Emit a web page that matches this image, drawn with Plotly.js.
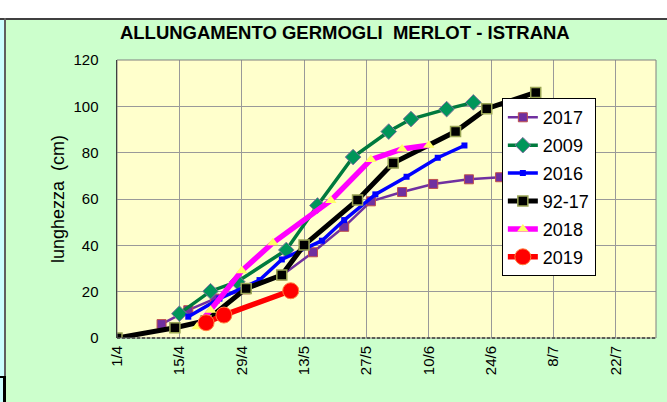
<!DOCTYPE html>
<html>
<head>
<meta charset="utf-8">
<script src="https://cdn.plot.ly/plotly-3.0.1.min.js"></script>
<style>
  html, body { margin: 0; padding: 0; }
  #wrap { position: relative; width: 667px; height: 402px; overflow: hidden; background: #CCFFCC; }
  .bg { position: absolute; }
  #chart { position: absolute; left: 0; top: 0; width: 667px; height: 402px; }
</style>
</head>
<body>
<div id="wrap">
  <div class="bg" style="left:0;top:0;width:667px;height:18px;background:#FFFFFF;"></div>
  <div class="bg" style="left:0;top:18px;width:667px;height:2px;background:#404040;"></div>
  <div class="bg" style="left:0;top:20px;width:4px;height:382px;background:#CCFFFF;"></div>
  <div class="bg" style="left:4px;top:18px;width:2px;height:360px;background:#606060;"></div>
  <div class="bg" style="left:0;top:376px;width:6px;height:2px;background:#000000;"></div>
  <div class="bg" style="left:3px;top:376px;width:3px;height:26px;background:#000000;"></div>
  <div id="chart"></div>
</div>
<script>
// ---- data ----
const dates2017 = ['2019-04-11','2019-04-17','2019-04-23','2019-04-30','2019-05-08','2019-05-15','2019-05-22','2019-05-28','2019-06-04','2019-06-11','2019-06-19','2019-06-26'];
const vals2017  = [6, 12, 17, 21, 27, 37, 48, 59, 63, 66.5, 68.5, 69.4];

const dates2009 = ['2019-04-15','2019-04-22','2019-04-28','2019-05-09','2019-05-16','2019-05-24','2019-06-01','2019-06-06','2019-06-14','2019-06-20'];
const vals2009  = [10.5, 20.2, 24.3, 38, 57.2, 78.1, 89.1, 94.5, 98.8, 101.7];

const dates2016 = ['2019-04-17','2019-04-24','2019-05-03','2019-05-08','2019-05-17','2019-05-22','2019-05-29','2019-06-05','2019-06-12','2019-06-18'];
const vals2016  = [9.2, 17, 25, 33.9, 42, 50.9, 62, 69.6, 77.8, 83.1];

const datesAvg  = ['2019-04-01','2019-04-14','2019-04-21','2019-04-30','2019-05-08','2019-05-13','2019-05-25','2019-06-02','2019-06-16','2019-06-23','2019-07-04'];
const valsAvg   = [0, 4.4, 7.5, 21.4, 27.2, 40.1, 59.6, 75.5, 89.1, 99, 106];

const dates2018 = ['2019-04-19','2019-04-22','2019-04-29','2019-05-06','2019-05-19','2019-05-28','2019-06-04','2019-06-10'];
const vals2018  = [4.9, 12, 29, 41.1, 59.4, 77, 81.6, 83.2];

const dates2019 = ['2019-04-21','2019-04-25','2019-05-10'];
const vals2019  = [6.6, 9.9, 20.4];

const seriesNames = ['2017', '2009', '2016', '92-17', '2018', '2019'];
const tickStart = '2019-04-01';
const axisEnd = '2019-07-31';
const yTicks = [0, 20, 40, 60, 80, 100, 120];

// ---- traces ----
const FONT = 'Arial, "Liberation Sans", sans-serif';
const traces = [
  { x: dates2017, y: vals2017, name: seriesNames[0], legendgroup: 'a',
    mode: 'lines+markers', line: { color: '#7030A0', width: 2.5 },
    marker: { symbol: 'square', size: 9, color: '#7030A0', line: { color: '#C0504D', width: 1 } } },
  { x: dates2009, y: vals2009, name: seriesNames[1], legendgroup: 'b',
    mode: 'lines+markers', line: { color: '#007A3D', width: 3.5 },
    marker: { symbol: 'diamond', size: 12, color: '#00965A', line: { color: '#8070A0', width: 1 } } },
  { x: dates2016, y: vals2016, name: seriesNames[2], legendgroup: 'c',
    mode: 'lines+markers', line: { color: '#0000FF', width: 3.5 },
    marker: { symbol: 'square', size: 6, color: '#0000FF' } },
  { x: datesAvg, y: valsAvg, name: seriesNames[3], legendgroup: 'd',
    mode: 'lines+markers', line: { color: '#000000', width: 5 },
    marker: { symbol: 'square', size: 10, color: '#000000', line: { color: '#9AA555', width: 1.5 } } },
  { x: dates2018, y: vals2018, name: seriesNames[4], legendgroup: 'e',
    mode: 'lines+markers', line: { color: '#FF00FF', width: 5.5 },
    marker: { symbol: 'triangle-up', size: 10, color: '#FFFF66' } },
  { x: dates2019, y: vals2019, name: seriesNames[5], legendgroup: 'f',
    mode: 'lines+markers', line: { color: '#FF0000', width: 5.5 },
    marker: { symbol: 'circle', size: 16, color: '#FF0000', line: { color: '#FF8040', width: 1 } } }
];

const layout = {
  width: 667, height: 402,
  margin: { l: 117, r: 11, t: 60, b: 64, pad: 0 },
  paper_bgcolor: 'rgba(0,0,0,0)',
  plot_bgcolor: '#FFFFCC',
  font: { family: FONT, color: '#000000', size: 15 },
  title: {
    text: 'ALLUNGAMENTO GERMOGLI  MERLOT - ISTRANA',
    font: { family: FONT, size: 18.5, color: '#000000', weight: 'bold' },
    x: 0.517, xanchor: 'center', xref: 'container',
    y: 0.918, yanchor: 'middle', yref: 'container'
  },
  xaxis: {
    type: 'date',
    range: [tickStart, axisEnd],
    tick0: tickStart, dtick: 14 * 86400000,
    tickformat: '%-d/%-m',
    tickangle: -90,
    tickfont: { family: FONT, size: 15 },
    showgrid: true, gridcolor: '#999999', gridwidth: 1,
    zeroline: false, showline: false, ticks: '',
    ticklabelstandoff: 4,
    fixedrange: true
  },
  yaxis: {
    range: [0, 120],
    tickvals: yTicks,
    tickfont: { family: FONT, size: 15 },
    showgrid: true, gridcolor: '#999999', gridwidth: 1,
    zeroline: false, showline: true, linecolor: '#000000', linewidth: 1.5,
    ticks: '', ticklabelstandoff: 14,
    title: { text: 'lunghezza  (cm)', font: { family: FONT, size: 18 }, standoff: 4 },
    fixedrange: true
  },
  shapes: [
    { type: 'rect', xref: 'paper', yref: 'paper', x0: 0, x1: 1, y0: 0, y1: 1,
      line: { color: '#808080', width: 1 }, layer: 'above' },
    { type: 'line', xref: 'paper', yref: 'paper', x0: 0, x1: 1, y0: 0, y1: 0,
      line: { color: '#404040', width: 1.5, dash: '3px,2px' }, layer: 'above' }
  ],
  showlegend: true,
  legend: {
    x: 0.714, y: 0.863, xanchor: 'left', yanchor: 'top',
    bgcolor: '#FFFFFF', bordercolor: '#000000', borderwidth: 1,
    font: { family: FONT, size: 18, color: '#000000' },
    traceorder: 'grouped', tracegroupgap: 1.5
  }
};

Plotly.newPlot('chart', traces, layout, { displayModeBar: false, staticPlot: true });
</script>
</body>
</html>
